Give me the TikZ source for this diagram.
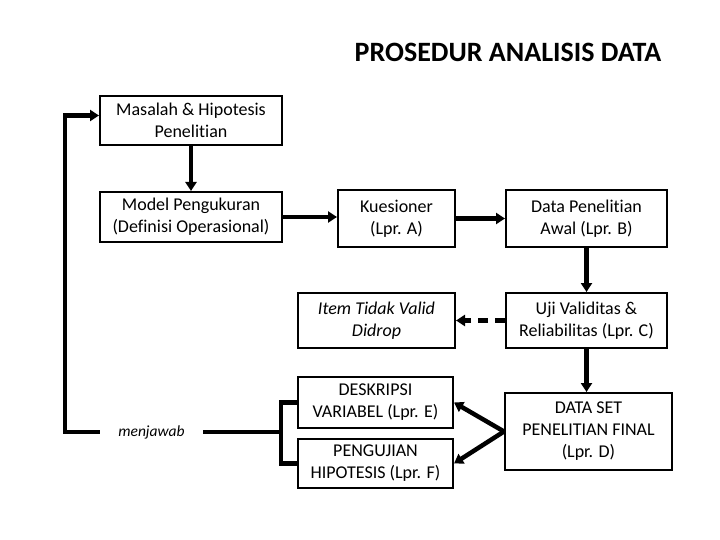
\documentclass[tikz,border=0pt]{standalone}
\usepackage{fontspec}
\setmainfont{Carlito}[Ligatures=NoCommon]
\usetikzlibrary{arrows.meta,calc}
\begin{document}
\begin{tikzpicture}[x=1pt,y=-1pt,
  box/.style={draw,line width=2pt,align=center,font=\fontsize{18}{22}\selectfont,inner sep=1pt},
  conn/.style={line width=4.5pt,-{Triangle[length=9pt,width=11pt]}},
  plain/.style={line width=4.5pt}]
\useasboundingbox (0,0) rectangle (720,540);
\node[font=\bfseries\fontsize{28}{32}\selectfont] (title) at (508,52) {PROSEDUR ANALISIS DATA};
\node[box,minimum width=182,minimum height=49] (mas) at (191,120.5) {Masalah \& Hipotesis\\Penelitian};
\node[box,minimum width=182,minimum height=50] (mod) at (191,217) {Model Pengukuran\\(Definisi Operasional)};
\node[box,minimum width=117,minimum height=57] (kue) at (396.5,218.5) {Kuesioner\\(Lpr. A)};
\node[box,minimum width=161,minimum height=57] (awal) at (586.5,218.5) {Data Penelitian\\Awal (Lpr. B)};
\node[box,minimum width=157,minimum height=55,font=\itshape\fontsize{18}{22}\selectfont] (item) at (376.5,320.5) {Item Tidak Valid\\Didrop};
\node[box,minimum width=161,minimum height=55] (uji) at (586.5,320.5) {Uji Validitas \&\\Reliabilitas (Lpr. C)};
\node[box,minimum width=155,minimum height=51] (desk) at (375.5,402.5) {DESKRIPSI\\VARIABEL (Lpr. E)};
\node[box,minimum width=155,minimum height=49] (peng) at (375.5,463.5) {PENGUJIAN\\HIPOTESIS (Lpr. F)};
\node[box,minimum width=167,minimum height=77] (final) at (588.5,431.5) {DATA SET\\PENELITIAN FINAL\\(Lpr. D)};
\node[font=\itshape\fontsize{15.5}{18}\selectfont,minimum width=103,inner sep=0pt] (menj) at (151.5,432) {menjawab};
\coordinate (br) at (282,432);
\coordinate (corner) at (65,432);
% connectors
\draw[conn] (mas) -- (mod);
\draw[conn] (mod.east) -- (mod.east -| kue.west);
\draw[conn] (kue) -- (awal);
\draw[conn] (awal) -- (uji);
\draw[conn,dash pattern=on 10pt off 7pt] (uji) -- (item);
\draw[conn] (uji.south) -- (uji.south |- final.north);
\draw[conn] (final.west) -- (desk.east);
\draw[conn] (final.west) -- (peng.east);
\draw[plain] (desk.west) -- ++(-16,0) |- (peng.west);
\draw[plain] (br) -- (menj.east);
\draw[conn] (menj.west) -- (corner) |- ($(mas.west)+(0,-5)$);
\end{tikzpicture}
\end{document}
